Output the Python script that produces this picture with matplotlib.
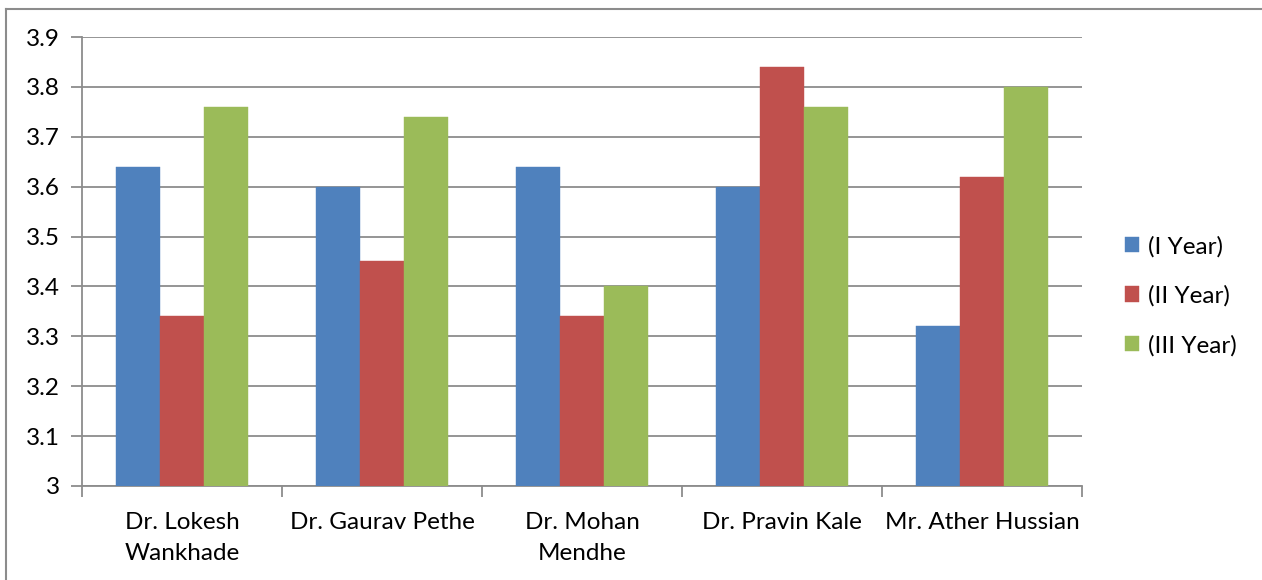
import matplotlib
matplotlib.use("Agg")
import matplotlib.pyplot as plt
import numpy as np
from matplotlib.lines import Line2D

categories = ["Dr. Lokesh\nWankhade", "Dr. Gaurav Pethe", "Dr. Mohan\nMendhe", "Dr. Pravin Kale", "Mr. Ather Hussian"]
series_names = ["(I Year)", "(II Year)", "(III Year)"]
year1 = [3.64, 3.60, 3.64, 3.60, 3.32]
year2 = [3.34, 3.45, 3.34, 3.84, 3.62]
year3 = [3.76, 3.74, 3.40, 3.76, 3.80]
yticks = [3.0, 3.1, 3.2, 3.3, 3.4, 3.5, 3.6, 3.7, 3.8, 3.9]
ytick_labels = ["3", "3.1", "3.2", "3.3", "3.4", "3.5", "3.6", "3.7", "3.8", "3.9"]
colors = ["#4F81BD", "#C0504D", "#9BBB59"]

plt.rcParams['font.family'] = ['Lato', 'DejaVu Sans']

fig = plt.figure(figsize=(12.62, 5.80), dpi=100)
ax = fig.add_axes([82/1262, 1-486/580, 1000/1262, 449/580])

x = np.arange(len(categories))
w = 0.22
for i, vals in enumerate([year1, year2, year3]):
    ax.bar(x + (i - 1) * w, np.array(vals) - 3.0, bottom=3.0, width=w,
           color=colors[i], label=series_names[i], zorder=3, edgecolor=colors[i], linewidth=0.3)

ax.set_xlim(-0.5, len(categories) - 0.5)
ax.set_ylim(3.0, 3.9)
ax.set_yticks(yticks)
ax.set_yticklabels(ytick_labels, fontsize=17.5)
ax.yaxis.grid(True, color="#8C8C8C", linewidth=1.3, zorder=0)
ax.set_axisbelow(True)

ax.set_xticks(x)
ax.set_xticklabels(categories, fontsize=17.5, linespacing=1.55)
ax.tick_params(axis='x', length=0, pad=19)
ax.set_xticks(np.arange(-0.5, len(categories)), minor=True)
ax.tick_params(axis='x', which='minor', length=8, width=1.3, color="#8C8C8C", direction='out')
ax.tick_params(axis='y', length=8, width=1.3, color="#8C8C8C", direction='out', pad=8)

for s in ['top', 'right']:
    ax.spines[s].set_visible(False)
for s in ['left', 'bottom']:
    ax.spines[s].set_color("#8C8C8C")
    ax.spines[s].set_linewidth(1.3)

leg = fig.legend(loc='center left', bbox_to_anchor=(1103/1262, 1-296/580), frameon=False,
                 fontsize=17.5, handlelength=0.6, handleheight=0.6, handletextpad=0.35,
                 labelspacing=1.15)

fig.lines.append(Line2D([6/1262, 6/1262], [0, 1-8.5/580], transform=fig.transFigure,
                        color="#8C8C8C", linewidth=1.5))
fig.lines.append(Line2D([6/1262, 1], [1-8.5/580, 1-8.5/580], transform=fig.transFigure,
                        color="#8C8C8C", linewidth=1.5))

fig.savefig("out.png", dpi=100, facecolor="white")
